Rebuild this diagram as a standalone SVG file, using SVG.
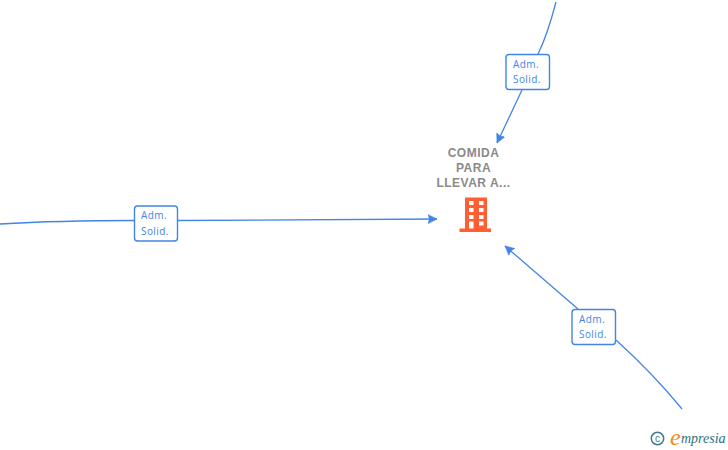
<svg xmlns="http://www.w3.org/2000/svg" width="728" height="450" viewBox="0 0 728 450">
<style>
.c{fill:none;stroke:#4285e4;stroke-width:1.3}
.b{fill:#fff;stroke:#4285e4;stroke-width:1.4}
.l{font:10px "Open Sans","Liberation Sans",sans-serif;fill:#4285e4;letter-spacing:.4px}
.t{font:bold 12px "Liberation Sans",Arial,sans-serif;fill:#8a8a8a;text-anchor:middle;letter-spacing:.5px}
.o{fill:#ff5f33}
.w{fill:#fff}
</style>
<defs>
<marker id="a" markerWidth="12" markerHeight="12" refX="9" refY="5" orient="auto" markerUnits="userSpaceOnUse"><path d="M0 0.500L9 5L0 9.500L1.500 5Z" fill="#4285e4" stroke="#4285e4" stroke-width=".6"/></marker>
</defs>
<rect width="728" height="450" fill="#fff"/>
<g id="connectors">
<path class="c" d="M556 2C550 25 544 42 538 54M522 90L497 143" marker-end="url(#a)"/>
<path class="c" d="M0 224C50 221 100 220.500 134 220.500M178 220.500C270 220.500 360 220 437 219" marker-end="url(#a)"/>
<path class="c" d="M682 409C660 382 638 360 616 340M578 309L505 246" marker-end="url(#a)"/>
</g>
<g id="edge1"><rect class="b" x="506" y="54.500" width="43.500" height="35" rx="3"/><text class="l" x="513" y="68">Adm.</text><text class="l" x="513" y="83">Solid.</text></g>
<g id="edge2"><rect class="b" x="134.500" y="206" width="43" height="35" rx="3"/><text class="l" x="141" y="219">Adm.</text><text class="l" x="141" y="235">Solid.</text></g>
<g id="edge3"><rect class="b" x="572" y="309.500" width="43.500" height="35" rx="3"/><text class="l" x="579" y="323">Adm.</text><text class="l" x="579" y="338">Solid.</text></g>
<g id="node">
<text class="t" x="473.500" y="157">COMIDA</text><text class="t" x="473.500" y="172">PARA</text><text class="t" x="473.500" y="187">LLEVAR A...</text>
<path class="o" d="M465 197.500h22v31h4v3.500h-31.500v-3.500h5.500z"/>
<g class="w"><rect x="469" y="201" width="4.500" height="4"/><rect x="479" y="201" width="4.500" height="4"/><rect x="469" y="208" width="4.500" height="4"/><rect x="479" y="208" width="4.500" height="4"/><rect x="469" y="215" width="4.500" height="4"/><rect x="479" y="215" width="4.500" height="4"/><rect x="469" y="221.500" width="4.500" height="7"/><rect x="479" y="221.500" width="4.500" height="4"/></g>
</g>
<g id="logo">
<circle cx="657.500" cy="438.500" r="6.200" fill="none" stroke="#3b7c8c" stroke-width="1.500"/>
<text x="657.500" y="442" font-family="Liberation Sans,sans-serif" font-size="10" fill="#3b7c8c" text-anchor="middle">c</text>
<text x="670" y="445" font-family="Liberation Serif,serif" font-style="italic" font-size="24" fill="#f08a1d">e</text>
<text x="681" y="443" font-family="Liberation Serif,serif" font-style="italic" font-size="14" fill="#2e6f80">mpresia</text>
</g>
</svg>
